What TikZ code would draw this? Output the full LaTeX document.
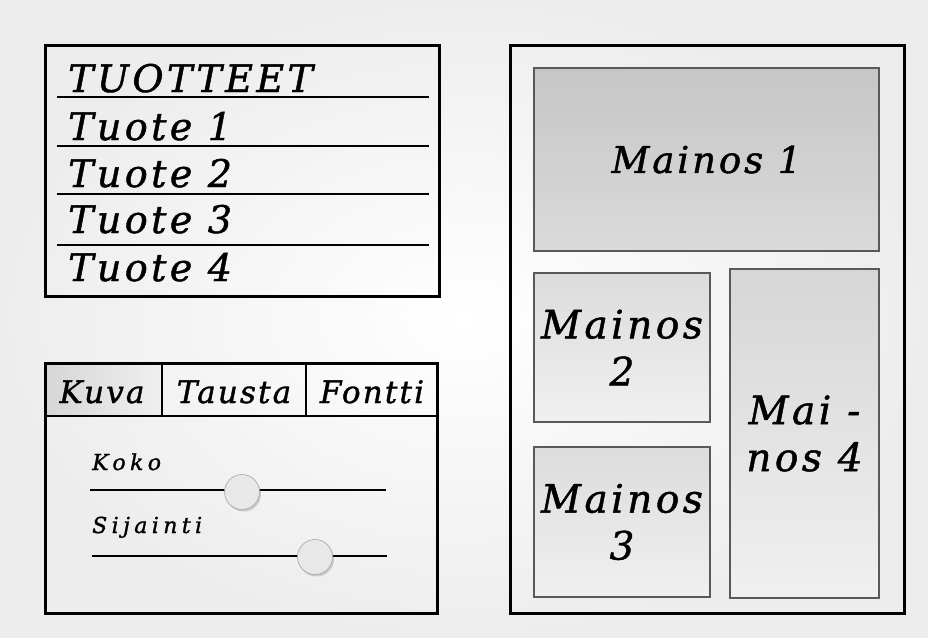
\documentclass[tikz,border=0pt]{standalone}
\usepackage{fontspec}
\setmainfont{DejaVu Serif}
\newfontfamily\uif[FakeBold=1.2]{DejaVu Serif}
\usetikzlibrary{shadows}
\definecolor{bgout}{HTML}{EDEDED}
\definecolor{adA}{HTML}{C6C6C6}
\definecolor{adB}{HTML}{DADADA}
\definecolor{adC}{HTML}{DCDCDC}
\definecolor{adD}{HTML}{F0F0F0}
\definecolor{adE}{HTML}{D6D6D6}
\definecolor{knobc}{HTML}{E8E8E8}
\newcommand{\ufont}[3]{\uif\itshape\addfontfeature{LetterSpace=#3}\fontsize{#1}{#2}\selectfont}
\begin{document}
\begin{tikzpicture}[x=1pt,y=-1pt,
  frame/.style={draw=black, line width=3pt},
  sep/.style={draw=black, line width=2pt},
  lbl/.style={inner sep=0pt, anchor=base west, text=black},
  listtxt/.style={lbl, font=\ufont{38}{38}{9}},
  tabtxt/.style={inner sep=0pt, anchor=base, font=\ufont{31}{31}{7}},
  smalltxt/.style={lbl, font=\ufont{22}{22}{20}},
  adbox/.style={draw=black!65, line width=1.3pt, inner sep=0pt, align=center,
     font=\ufont{39}{47}{9}},
  knob/.style={circle, minimum size=35pt, inner sep=0pt, fill=knobc, draw=gray!70,
     line width=0.6pt, drop shadow={shadow xshift=1.5pt, shadow yshift=-2pt, opacity=0.35}}
]
\useasboundingbox (0,0) rectangle (928,637);
\shade[inner color=white, outer color=bgout] (0,0) rectangle (928,637);

% product list
\draw[frame] (45,45) rectangle (439,296);
\draw[sep] (57,97) -- (429,97);
\draw[sep] (57,146) -- (429,146);
\draw[sep] (57,194) -- (429,194);
\draw[sep] (57,245) -- (429,245);
\node[listtxt] (t0) at (68,92) {TUOTTEET};
\node[listtxt] (t1) at (68,140) {Tuote 1};
\node[listtxt] (t2) at (68,187) {Tuote 2};
\node[listtxt] (t3) at (68,233) {Tuote 3};
\node[listtxt] (t4) at (68,281) {Tuote 4};

% settings panel
\shade[left color=adE, right color=adD] (45,363) rectangle (162,416);
\draw[sep] (45,416) -- (437,416);
\draw[sep] (162,363) -- (162,416);
\draw[sep] (306,363) -- (306,416);
\draw[frame] (45,363) rectangle (437,613);
\node[tabtxt] (kuva) at (102,403) {Kuva};
\node[tabtxt] (tausta) at (234,403) {Tausta};
\node[tabtxt] (fontti) at (372,403) {Fontti};
\node[smalltxt] (koko) at (92,470) {Koko};
\node[smalltxt] (sij) at (92,533) {Sijainti};
\coordinate (s1a) at (90,490);
\coordinate (s1b) at (386,490);
\coordinate (s2a) at (92,556);
\coordinate (s2b) at (387,556);
\draw[sep] (s1a) -- (s1b);
\draw[sep] (s2a) -- (s2b);
\node[knob] (k1) at (242,492) {};
\node[knob] (k2) at (315,557) {};

% ads panel
\draw[frame] (510,45) rectangle (904,613);
\node[adbox, top color=adA, bottom color=adB, minimum width=345pt, minimum height=183pt, font=\ufont{37}{37}{8}] (m1) at (706.5,159.5) {Mainos 1};
\node[adbox, top color=adC, bottom color=adD, minimum width=176pt, minimum height=149pt] (m2) at (622,347.5) {Mainos\\2};
\node[adbox, top color=adC, bottom color=adD, minimum width=176pt, minimum height=150pt] (m3) at (622,522) {Mainos\\3};
\node[adbox, top color=adE, bottom color=adD, minimum width=149pt, minimum height=329pt] (m4) at (804.5,433.5) {Mai -\\nos 4};
\end{tikzpicture}
\end{document}
